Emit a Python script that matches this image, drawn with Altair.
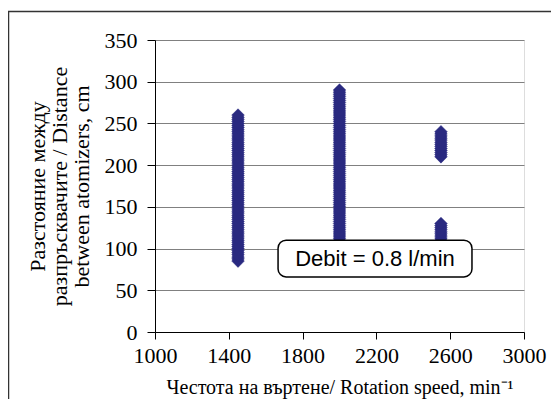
import altair as alt
import pandas as pd

# Rotation speed groups (min^-1) and the distances measured at each (cm)
speed_a = 1450
dist_a = [85, 87.5, 90, 92.5, 95, 97.5, 100, 102.5, 105, 107.5, 110, 112.5,
          115, 117.5, 120, 122.5, 125, 127.5, 130, 132.5, 135, 137.5, 140,
          142.5, 145, 147.5, 150, 152.5, 155, 157.5, 160, 162.5, 165, 167.5,
          170, 172.5, 175, 177.5, 180, 182.5, 185, 187.5, 190, 192.5, 195,
          197.5, 200, 202.5, 205, 207.5, 210, 212.5, 215, 217.5, 220, 222.5,
          225, 227.5, 230, 232.5, 235, 237.5, 240, 242.5, 245, 247.5, 250,
          252.5, 255, 257.5, 260]
speed_b = 2000
dist_b = [100, 102.5, 105, 107.5, 110, 112.5, 115, 117.5, 120, 122.5, 125,
          127.5, 130, 132.5, 135, 137.5, 140, 142.5, 145, 147.5, 150, 152.5,
          155, 157.5, 160, 162.5, 165, 167.5, 170, 172.5, 175, 177.5, 180,
          182.5, 185, 187.5, 190, 192.5, 195, 197.5, 200, 202.5, 205, 207.5,
          210, 212.5, 215, 217.5, 220, 222.5, 225, 227.5, 230, 232.5, 235,
          237.5, 240, 242.5, 245, 247.5, 250, 252.5, 255, 257.5, 260, 262.5,
          265, 267.5, 270, 272.5, 275, 277.5, 280, 282.5, 285, 287.5, 290]
speed_c = 2550
dist_c = [100, 102.5, 105, 107.5, 110, 112.5, 115, 117.5, 120, 122.5, 125,
          127.5, 130,
          210, 212.5, 215, 217.5, 220, 222.5, 225, 227.5, 230, 232.5, 235,
          237.5, 240]

x_ticks = [1000, 1400, 1800, 2200, 2600, 3000]
y_ticks = [0, 50, 100, 150, 200, 250, 300, 350]

note_text = ["Debit = 0.8 l/min"]
note_x = [1667]
note_x2 = [2718]
note_y = [66]
note_y2 = [110]

rows = ([{"speed": speed_a, "dist": d} for d in dist_a]
        + [{"speed": speed_b, "dist": d} for d in dist_b]
        + [{"speed": speed_c, "dist": d} for d in dist_c])
df = pd.DataFrame(rows)

serif = "Liberation Serif"

x_enc = alt.X("speed:Q",
              scale=alt.Scale(domain=[1000, 3000], nice=False, zero=False),
              axis=alt.Axis(values=x_ticks, grid=False, format="d",
                            title="Честота на въртене/ Rotation speed, min⁻¹",
                            titleFont=serif, titleFontSize=20, titleFontWeight="normal",
                            titleColor="black", titlePadding=11,
                            labelFont=serif, labelFontSize=22, labelColor="black",
                            labelPadding=6, tickSize=7, tickColor="black",
                            domainColor="black", labelFlush=False))
y_enc = alt.Y("dist:Q",
              scale=alt.Scale(domain=[0, 350], nice=False),
              axis=alt.Axis(values=y_ticks, grid=True, gridColor="#808080",
                            gridWidth=1,
                            title=["Разстояние между",
                                   "разпръсквачите / Distance",
                                   "between atomizers, cm"],
                            titleFont=serif, titleFontSize=22, titleFontWeight="normal",
                            titleColor="black", titlePadding=11, titleLineHeight=22,
                            labelFont=serif, labelFontSize=22, labelColor="black",
                            labelPadding=10, tickSize=8, tickColor="black",
                            domainColor="black", labelFlush=False))

points = alt.Chart(df).mark_point(
    shape="diamond", filled=True, size=160, color="#2A2A80",
    opacity=1, stroke="#2A2A80", strokeWidth=0.5
).encode(x=x_enc, y=y_enc)

note_df = pd.DataFrame({"x": note_x, "x2": note_x2, "y": note_y, "y2": note_y2,
                        "t": note_text})
box = alt.Chart(note_df).mark_rect(
    fill="white", stroke="black", strokeWidth=1.5, cornerRadius=8
).encode(x="x:Q", x2="x2:Q", y="y:Q", y2="y2:Q")

label = alt.Chart(note_df).mark_text(
    font="Liberation Sans", fontSize=22, color="black",
    align="center", baseline="middle"
).encode(x=alt.X("mid:Q"), y=alt.Y("ymid:Q"), text="t:N").transform_calculate(
    mid="(datum.x + datum.x2) / 2", ymid="(datum.y + datum.y2) / 2")

frame = alt.Chart(note_df).mark_rect(
    fillOpacity=0, stroke="#333333", strokeWidth=1.5
).encode(x=alt.value(-146.5), x2=alt.value(600), y=alt.value(-28.5), y2=alt.value(600))

chart = alt.layer(frame, points, box, label).properties(
    width=369, height=292,
    autosize=alt.AutoSizeParams(type="none"),
    padding={"left": 147, "top": 32, "right": 27, "bottom": 67},
).configure_view(
    stroke="#808080", strokeWidth=2
).configure(background="white")

chart.save("out.html", embed_options={"renderer": "svg", "actions": False})
